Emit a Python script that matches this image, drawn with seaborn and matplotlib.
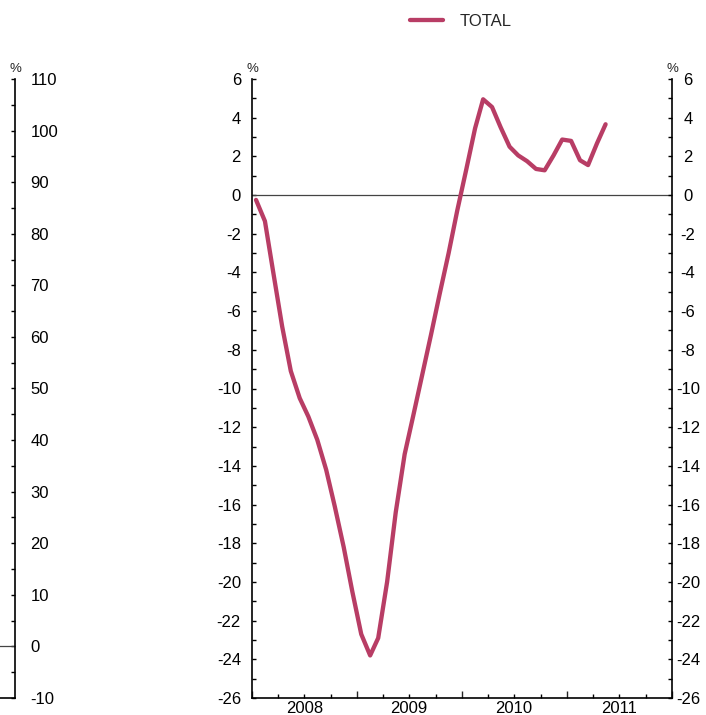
import seaborn as sns
import matplotlib.pyplot as plt
import matplotlib.dates as mdates
from matplotlib.ticker import MultipleLocator, FuncFormatter
import pandas as pd

# Monthly values, Jan 2008 - May 2011
months = pd.date_range("2008-01-01", periods=41, freq="MS") + pd.Timedelta(days=14)
total = [-0.25, -1.35, -4.0, -6.8, -9.1, -10.5, -11.45, -12.65, -14.2, -16.1,
         -18.2, -20.5, -22.7, -23.8, -22.9, -20.0, -16.4, -13.4, -11.4, -9.3,
         -7.2, -5.1, -3.0, -0.8, 1.3, 3.45, 4.95, 4.55, 3.5, 2.5,
         2.05, 1.75, 1.35, 1.28, 2.05, 2.87, 2.8, 1.8, 1.55, 2.67, 3.66]
series_name = "TOTAL"
line_color = "#b83d65"

sns.set_style("ticks")
plt.rcParams['font.family'] = ['Liberation Sans', 'DejaVu Sans']
plt.rcParams['axes.unicode_minus'] = False
fs = 12

df = pd.DataFrame({"Date": months, "Value": total, "Series": series_name})

W, H = 706, 715
fig = plt.figure(figsize=(W / 100, H / 100), dpi=100)
bottom = (H - 698) / H
height = (698 - 79) / H

# Cut-off panel on the left: only its right axis shows
ax_l = fig.add_axes([-0.1, bottom, 0.1 + 15 / W, height])
ax_l.set_ylim(-10, 110)
ax_l.set_xlim(0, 1)
ax_l.axhline(0, color="#444444", lw=0.9)
for s in ["left", "top"]:
    ax_l.spines[s].set_visible(False)
for s in ["right", "bottom"]:
    ax_l.spines[s].set_color("black")
    ax_l.spines[s].set_linewidth(1.2)
ax_l.set_xticks([])
ax_l.yaxis.tick_right()
ax_l.yaxis.set_major_locator(MultipleLocator(10))
ax_l.yaxis.set_minor_locator(MultipleLocator(5))
ax_l.tick_params(axis="y", which="both", direction="in", length=3, width=1,
                 labelsize=fs, pad=11, colors="black")
ax_l.text(1.0, 1.006, "%", transform=ax_l.transAxes, ha="center", va="bottom", fontsize=9.5)

# Main panel
ax = fig.add_axes([252 / W, bottom, 420 / W, height])
sns.lineplot(data=df, x="Date", y="Value", hue="Series", palette=[line_color],
             lw=3.1, ax=ax, legend=False)
ax.axhline(0, color="#444444", lw=0.9, zorder=1)
ax.set_ylim(-26, 6)
ax.set_xlim(pd.Timestamp("2008-01-01"), pd.Timestamp("2012-01-01"))
ax.set_xlabel("")
ax.set_ylabel("")
ax.spines["top"].set_visible(False)
for s in ["left", "right", "bottom"]:
    ax.spines[s].set_color("black")
    ax.spines[s].set_linewidth(1.2)

ax.yaxis.set_major_locator(MultipleLocator(2))
ax.yaxis.set_minor_locator(MultipleLocator(1))
ax.tick_params(axis="y", which="both", direction="in", length=3, width=1,
               left=True, right=False, labelsize=fs, colors="black")
ax.tick_params(axis="y", which="major", pad=8)

ax.xaxis.set_major_locator(mdates.YearLocator())
ax.xaxis.set_major_formatter(FuncFormatter(lambda v, p: ""))
ax.xaxis.set_minor_locator(mdates.MonthLocator(bymonth=[1, 4, 7, 10]))
ax.xaxis.set_minor_formatter(FuncFormatter(
    lambda v, p: str(mdates.num2date(v).year) if mdates.num2date(v).month == 7 else ""))
ax.tick_params(axis="x", which="major", direction="in", length=5, width=1)
ax.tick_params(axis="x", which="minor", direction="in", length=3, width=1,
               labelsize=fs, pad=2, colors="black")

# Right-hand scale, same values, labels centred a bit off the spine
ax_r = ax.twinx()
ax_r.set_ylim(ax.get_ylim())
for s in ax_r.spines.values():
    s.set_visible(False)
ax_r.yaxis.set_major_locator(MultipleLocator(2))
ax_r.yaxis.set_minor_locator(MultipleLocator(1))
ax_r.tick_params(axis="y", which="both", direction="in", length=3, width=1,
                 labelsize=fs, colors="black", pad=11.5)
for lab in ax_r.get_yticklabels():
    lab.set_horizontalalignment("center")

ax.text(0.0, 1.006, "%", transform=ax.transAxes, ha="center", va="bottom", fontsize=9.5)
ax.text(1.0, 1.006, "%", transform=ax.transAxes, ha="center", va="bottom", fontsize=9.5)

# Legend at the top
handle = plt.Line2D([], [], color=line_color, lw=3.1)
fig.legend([handle], [series_name], loc="center left", bbox_to_anchor=(410 / W, 1 - 21 / H),
           frameon=False, fontsize=fs, handlelength=2.0, handletextpad=0.95,
           borderpad=0, borderaxespad=0)

fig.savefig("out.png", dpi=100)
